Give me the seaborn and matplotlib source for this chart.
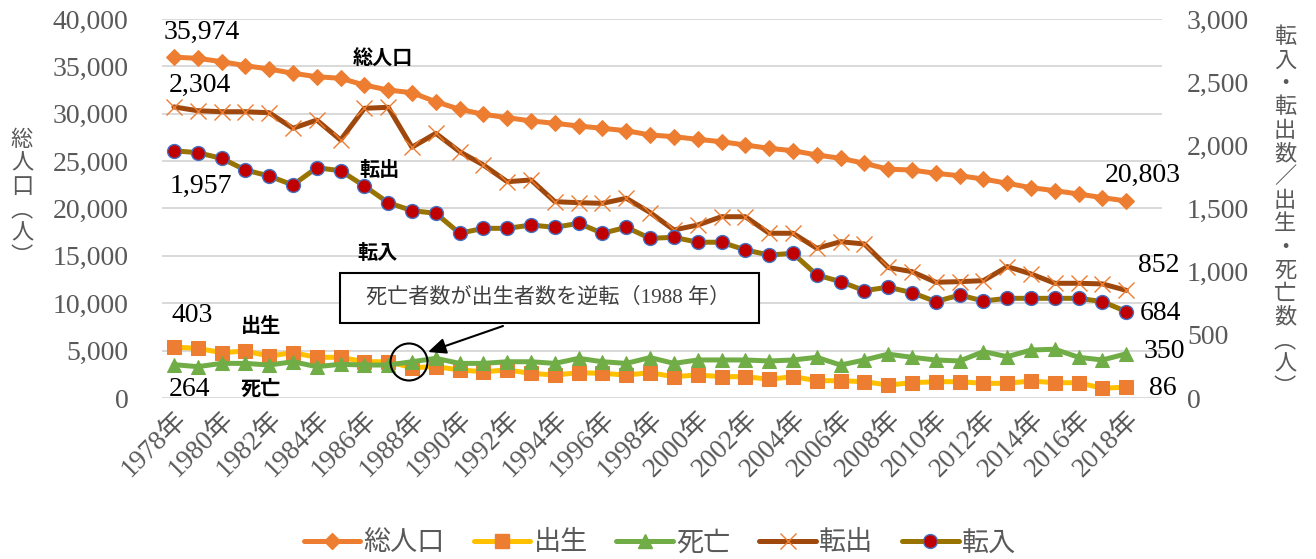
import matplotlib
matplotlib.use("Agg")
import matplotlib.pyplot as plt
from matplotlib.lines import Line2D
from matplotlib.patches import Rectangle, Ellipse
import seaborn as sns
import pandas as pd

# ---------------- data ----------------
years = list(range(1978, 2019))
total_pop = [35974, 35850, 35500, 35075, 34720, 34270, 33910, 33740, 33030, 32500,
             32220, 31270, 30470, 29940, 29590, 29240, 28990, 28710, 28460, 28210,
             27760, 27580, 27300, 27050, 26700, 26350, 26100, 25650, 25300, 24770,
             24150, 24060, 23710, 23460, 23110, 22660, 22200, 21880, 21530, 21140,
             20803]
births = [403, 393, 359, 372, 332, 359, 322, 322, 287, 287,
          240, 248, 222, 208, 222, 195, 182, 200, 195, 182,
          200, 169, 182, 169, 169, 148, 169, 137, 137, 129,
          103, 121, 129, 129, 116, 116, 135, 121, 121, 77,
          86]
deaths = [264, 248, 274, 274, 261, 287, 248, 267, 261, 261,
          287, 314, 274, 274, 287, 287, 274, 314, 287, 274,
          320, 274, 301, 301, 301, 293, 301, 322, 261, 301,
          347, 322, 301, 293, 367, 327, 380, 386, 322, 301,
          350]
move_out = [2304, 2274, 2266, 2266, 2258, 2135, 2200, 2042, 2293, 2301,
            1985, 2095, 1950, 1844, 1712, 1726, 1554, 1546, 1541, 1581,
            1468, 1330, 1369, 1435, 1435, 1304, 1304, 1185, 1237, 1219,
            1033, 1000, 916, 921, 929, 1040, 982, 908, 908, 903,
            852]
move_in = [1957, 1942, 1897, 1805, 1757, 1686, 1823, 1799, 1678, 1546,
           1483, 1462, 1304, 1343, 1343, 1369, 1351, 1383, 1304, 1351,
           1264, 1272, 1233, 1233, 1172, 1132, 1145, 974, 921, 850,
           877, 834, 763, 815, 768, 789, 789, 789, 789, 763,
           684]
tick_labels = [f"{y}年" for y in years]
series_names = ["総人口", "出生", "死亡", "転出", "転入"]

df = pd.DataFrame({"idx": range(len(years)), "year": years, "total": total_pop,
                   "birth": births, "death": deaths, "out": move_out, "in": move_in})

# ---------------- style ----------------
sns.set_theme(style="white")
plt.rcParams["font.family"] = ["Liberation Serif", "Noto Sans CJK JP"]
GRAY = "#595959"
SERIF_JP = ["Liberation Serif", "Noto Sans CJK JP"]
GOTHIC = ["Noto Sans CJK JP", "DejaVu Sans"]

W, H = 1316, 559
fig = plt.figure(figsize=(W / 100, H / 100), dpi=100)
ax = fig.add_axes([162 / W, 1 - 398 / H, 1000 / W, 379 / H])
ax2 = ax.twinx()

def px(x, y):
    return x / W, 1 - y / H

C_ORANGE = "#ED7D31"
C_GOLD = "#FFC000"
C_GREEN = "#70AD47"
C_BROWN = "#9E480E"
C_OLIVE = "#997300"
C_RED = "#C00000"
C_BLUE = "#4472C4"

styles = {
    "総人口": dict(color=C_ORANGE, linewidth=3.6, marker="D", markersize=8.5,
                 markerfacecolor=C_ORANGE, markeredgecolor=C_ORANGE),
    "出生": dict(color=C_GOLD, linewidth=3.6, marker="s", markersize=9.5,
               markerfacecolor=C_ORANGE, markeredgecolor=C_ORANGE),
    "死亡": dict(color=C_GREEN, linewidth=3.6, marker="^", markersize=10,
               markerfacecolor=C_GREEN, markeredgecolor=C_GREEN),
    "転出": dict(color=C_BROWN, linewidth=3.6, marker="x", markersize=12,
               markeredgecolor=C_ORANGE, markeredgewidth=1.0),
    "転入": dict(color=C_OLIVE, linewidth=3.6, marker="o", markersize=10,
               markerfacecolor=C_RED, markeredgecolor=C_BLUE, markeredgewidth=1.0),
}

sns.lineplot(data=df, x="idx", y="total", ax=ax, **styles["総人口"])
sns.lineplot(data=df, x="idx", y="birth", ax=ax2, **styles["出生"])
sns.lineplot(data=df, x="idx", y="death", ax=ax2, **styles["死亡"])
sns.lineplot(data=df, x="idx", y="out", ax=ax2, **styles["転出"])
sns.lineplot(data=df, x="idx", y="in", ax=ax2, **styles["転入"])

# ---------------- axes ----------------
ax.set_xlim(-0.5, len(years) + 0.5)
ax.set_ylim(0, 40000)
ax2.set_ylim(0, 3000)
ax.set_yticks(range(0, 40001, 5000))
ax.set_yticklabels([f"{v:,}" for v in range(0, 40001, 5000)])
ax2.set_yticks(range(0, 3001, 500))
ax2.set_yticklabels([f"{v:,}" for v in range(0, 3001, 500)])
ax.set_xticks(list(range(0, len(years), 2)))
ax.set_xticklabels(tick_labels[::2], rotation=45, ha="right", rotation_mode="anchor")
ax.set_xlabel("")
ax.set_ylabel("")
ax2.set_ylabel("")

for a in (ax, ax2):
    for s in a.spines.values():
        s.set_visible(False)
ax.grid(axis="y", color="#D9D9D9", linewidth=1.4)
ax.grid(axis="x", visible=False)
ax2.grid(False)
ax.tick_params(axis="y", length=0, pad=24, labelsize=20, labelcolor=GRAY)
ax2.tick_params(axis="y", length=0, pad=18, labelsize=20, labelcolor=GRAY)
ax.tick_params(axis="x", length=0, pad=6, labelsize=19.5, labelcolor=GRAY)
for t in ax.get_xticklabels():
    t.set_family(SERIF_JP)
ax.set_zorder(1)
ax2.set_zorder(2)
ax.patch.set_visible(False)

# axis titles (vertical stacked)
fig.text(*px(22, 198), "総\n人\n口\n︵\n人\n︶", ha="center", va="center",
         fontsize=16, color=GRAY, family=GOTHIC, linespacing=1.02)
fig.text(*px(1285, 212), "転\n入\n・\n転\n出\n数\n／\n出\n生\n・\n死\n亡\n数\n︵\n人\n︶",
         ha="center", va="center", fontsize=16, color=GRAY, family=GOTHIC, linespacing=1.02)

# ---------------- data labels ----------------
def dlabel(a, i, v, text, dx, dy):
    a.annotate(text, (i, v), xytext=(dx, dy), textcoords="offset pixels",
               ha="center", va="center", fontsize=20, color="black",
               family="Liberation Serif")

last = len(years) - 1
dlabel(ax, 0, total_pop[0], f"{total_pop[0]:,}", 28, 25)
dlabel(ax2, 0, move_out[0], f"{move_out[0]:,}", 26, 22)
dlabel(ax2, 0, move_in[0], f"{move_in[0]:,}", 27, -36)
dlabel(ax2, 0, births[0], f"{births[0]:,}", 18, 32)
dlabel(ax2, 0, deaths[0], f"{deaths[0]:,}", 16, -25)
dlabel(ax, last, total_pop[last], f"{total_pop[last]:,}", 16, 25)
dlabel(ax2, last, move_out[last], f"{move_out[last]:,}", 32, 25)
dlabel(ax2, last, move_in[last], f"{move_in[last]:,}", 34, -2)
dlabel(ax2, last, deaths[last], f"{deaths[last]:,}", 38, 2)
dlabel(ax2, last, births[last], f"{births[last]:,}", 37, -1)

# series name labels
for name, (x, y) in zip(series_names, [(383, 58), (261, 325), (261, 388), (380, 170), (377, 252)]):
    fig.text(*px(x, y), name, ha="center", va="center", fontsize=14.5,
             color="black", family=GOTHIC, fontweight="bold")

# ---------------- callout ----------------
box = Rectangle(px(340, 323), 419 / W, 50 / H, transform=fig.transFigure,
                facecolor="white", edgecolor="black", linewidth=1.5, zorder=5)
fig.add_artist(box)
fig.text(*px(548, 298), "死亡者数が出生者数を逆転（1988 年）", ha="center", va="center",
         fontsize=15.2, color="#404040", family=SERIF_JP, zorder=6)
circ = Ellipse(px(409, 362), 37 / W, 37 / H, transform=fig.transFigure,
               facecolor="none", edgecolor="black", linewidth=1.5, zorder=6)
fig.add_artist(circ)
ax2.annotate("", xy=px(428, 352), xytext=px(503, 326), xycoords="figure fraction",
             textcoords="figure fraction",
             arrowprops=dict(arrowstyle="-|>,head_length=0.9,head_width=0.4",
                             color="black", linewidth=1.5, shrinkA=0, shrinkB=0),
             zorder=7)

# ---------------- legend ----------------
handles = []
for name in series_names:
    st = dict(styles[name])
    handles.append(Line2D([0], [0], **st))
leg = fig.legend(handles, series_names, loc="center", bbox_to_anchor=px(660, 543),
                 ncol=5, frameon=False, prop={"family": GOTHIC, "size": 19.5},
                 labelcolor=GRAY, handlelength=2.1, handletextpad=0.12,
                 columnspacing=1.05, numpoints=1)

fig.savefig("out.png", dpi=100)
